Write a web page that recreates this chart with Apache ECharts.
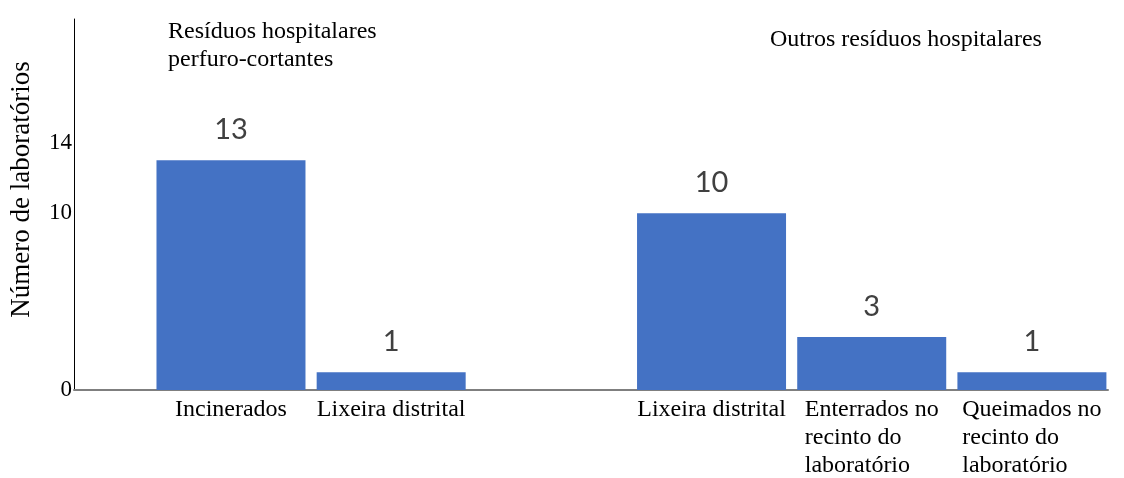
<!DOCTYPE html>
<html>
<head>
<meta charset="utf-8">
<script src="https://cdn.jsdelivr.net/npm/echarts@6/dist/echarts.min.js"></script>
<style>
  html, body { margin: 0; padding: 0; background: #fff; }
  #chart { width: 1124px; height: 478px; }
</style>
</head>
<body>
<div id="chart"></div>
<script>
// Destination of hospital waste, by number of laboratories.
// The empty slot separates the two waste groups.
const categories = [
  'Incinerados',
  'Lixeira distrital',
  '',
  'Lixeira distrital',
  'Enterrados no\nrecinto do\nlaboratório',
  'Queimados no\nrecinto do\nlaboratório'
];
const values = [13, 1, null, 10, 3, 1];
const yTickValues = [0, 10, 14];
const groupTitles = ['Resíduos hospitalares\nperfuro-cortantes', 'Outros resíduos hospitalares'];
const yAxisTitle = 'Número de laboratórios';

const serif = "'Liberation Serif', 'Times New Roman', serif";
const barData = values
  .map((v, i) => [i, v])
  .filter(d => d[1] !== null);
const labelSlots = categories
  .map((c, i) => (c ? i : null))
  .filter(i => i !== null);

const chart = echarts.init(document.getElementById('chart'));
chart.setOption({
  animation: false,
  backgroundColor: '#ffffff',
  title: [
    {
      text: groupTitles[0],
      left: 163, top: 13,
      textStyle: { fontFamily: serif, fontSize: 24, fontWeight: 'normal', color: '#000', lineHeight: 28 }
    },
    {
      text: groupTitles[1],
      left: 765, top: 23,
      textStyle: { fontFamily: serif, fontSize: 24, fontWeight: 'normal', color: '#000' }
    }
  ],
  grid: { left: 73, right: 16, top: 19, bottom: 87 },
  xAxis: {
    type: 'value',
    min: -0.98,
    max: 5.475,
    splitLine: { show: false },
    axisTick: { show: false },
    axisLine: { show: true, lineStyle: { color: '#7f7f7f', width: 2 } },
    axisLabel: {
      customValues: labelSlots,
      margin: 6,
      formatter: v => categories[v].split('\n').map(l => '{a|' + l + '}').join('\n'),
      rich: {
        a: { fontFamily: serif, fontSize: 24, lineHeight: 28, align: 'left', color: '#000' }
      }
    }
  },
  yAxis: {
    type: 'value',
    min: 0,
    max: 21,
    name: yAxisTitle,
    nameLocation: 'middle',
    nameGap: 39,
    nameTextStyle: { fontFamily: serif, fontSize: 27, color: '#000', padding: [0, 0, 0, 30] },
    splitLine: { show: false },
    axisTick: { show: false },
    axisLine: { show: true, onZero: false, lineStyle: { color: '#000', width: 1 } },
    axisLabel: {
      customValues: yTickValues,
      margin: 2,
      fontFamily: serif,
      fontSize: 23,
      color: '#000'
    }
  },
  series: [{
    type: 'bar',
    data: barData,
    barWidth: 149,
    itemStyle: { color: '#4472C4' },
    label: {
      show: true,
      position: 'top',
      distance: 16,
      fontFamily: "Lato, 'Open Sans', sans-serif",
      fontSize: 29,
      color: '#404040',
      formatter: p => p.value[1]
    }
  }]
});
</script>
</body>
</html>
